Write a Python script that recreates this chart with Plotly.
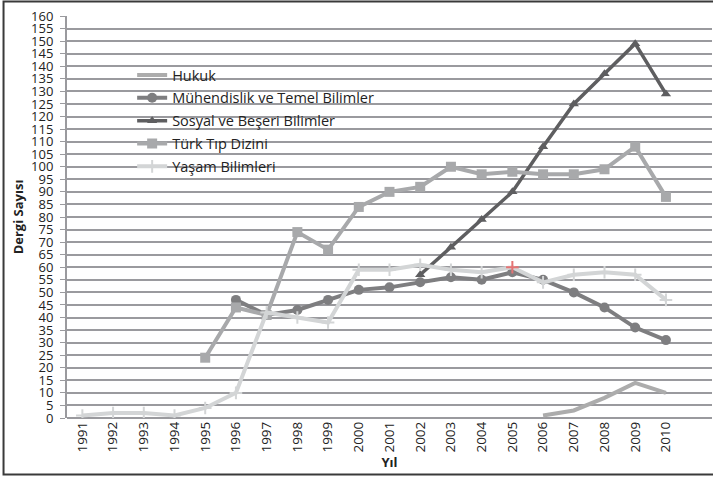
import plotly.graph_objects as go

years = list(range(1991, 2011))

hukuk_years = [2006, 2007, 2008, 2009, 2010]
hukuk = [1, 3, 8, 14, 10]

muh_years = list(range(1996, 2011))
muhendislik = [47, 41, 43, 47, 51, 52, 54, 56, 55, 58, 55, 50, 44, 36, 31]

sosyal_years = list(range(2002, 2011))
sosyal = [57, 68, 79, 90, 108, 125, 137, 149, 129]

tip_years = list(range(1995, 2011))
turk_tip = [24, 44, 41, 74, 67, 84, 90, 92, 100, 97, 98, 97, 97, 99, 108, 88]

yasam_years = years
yasam = [1, 2, 2, 1, 4, 10, 42, 40, 38, 59, 59, 61, 59, 58, 60, 54, 57, 58, 57, 47]

FONT = "Open Sans"
GRID = "#9a9a9e"

fig = go.Figure()

fig.add_trace(go.Scatter(
    x=hukuk_years, y=hukuk, mode="lines", name="Hukuk",
    line=dict(color="#acacac", width=4), legendgroup="a",
))
fig.add_trace(go.Scatter(
    x=muh_years, y=muhendislik, mode="lines+markers",
    name="Mühendislik ve Temel Bilimler",
    line=dict(color="#7e7e80", width=4),
    marker=dict(symbol="circle", size=10, color="#7e7e80"), legendgroup="b",
))
fig.add_trace(go.Scatter(
    x=sosyal_years, y=sosyal, mode="lines+markers",
    name="Sosyal ve Beşeri Bilimler",
    line=dict(color="#5e5e60", width=3.5),
    marker=dict(symbol="triangle-up", size=9, color="#5e5e60"), legendgroup="c",
))
fig.add_trace(go.Scatter(
    x=tip_years, y=turk_tip, mode="lines+markers", name="Türk Tıp Dizini",
    line=dict(color="#a8a9ab", width=4),
    marker=dict(symbol="square", size=10, color="#a8a9ab"), legendgroup="d",
))
yasam_colors = ["#d3d5d6"] * len(yasam)
yasam_colors[yasam_years.index(2005)] = "#e57373"
fig.add_trace(go.Scatter(
    x=yasam_years, y=yasam, mode="lines+markers", name="Yaşam Bilimleri",
    line=dict(color="#d3d5d6", width=4),
    marker=dict(symbol="cross-thin", size=9, color=yasam_colors,
                line=dict(width=2, color=yasam_colors)),
    legendgroup="e",
))

# white box behind the legend (hides gridlines)
fig.add_shape(type="rect", xref="paper", yref="paper",
              x0=0.074, x1=0.504, y0=0.585, y1=0.885,
              fillcolor="white", line_width=0, layer="between")
# outer frame
fig.add_shape(type="rect", xref="paper", yref="paper",
              x0=-0.0984, x1=1.05, y0=-0.1405, y1=1.036,
              fillcolor="rgba(0,0,0,0)", line=dict(color="#3a3a3a", width=2))

fig.update_layout(
    width=713, height=478,
    margin=dict(l=67, r=1, t=16, b=60),
    paper_bgcolor="white", plot_bgcolor="white",
    font=dict(family=FONT, color="#222222", size=13),
    showlegend=True,
    legend=dict(
        x=0.101, y=0.893, xanchor="left", yanchor="top",
        bgcolor="rgba(0,0,0,0)", font=dict(family=FONT, size=14.5, color="#222222"),
        tracegroupgap=1, itemwidth=30,
    ),
    xaxis=dict(
        range=[1990.5, 2011.5], tickmode="array", tickvals=years,
        ticktext=[str(y) for y in years], tickangle=-90,
        showgrid=False, zeroline=False, showline=False, automargin=False,
        ticks="", tickfont=dict(family=FONT, size=13.5, color="#222222"),
        title=dict(text="<b>Yıl</b>", font=dict(family=FONT, size=13), standoff=0),
    ),
    yaxis=dict(
        range=[0, 160], tickmode="linear", tick0=0, dtick=5,
        showgrid=True, gridcolor=GRID, gridwidth=1.5,
        zeroline=True, zerolinecolor=GRID, zerolinewidth=1.5,
        showline=True, linecolor=GRID, linewidth=2, automargin=False,
        ticks="outside", ticklen=5, tickcolor=GRID, ticklabelstandoff=4,
        tickfont=dict(family=FONT, size=13, color="#222222"),
        title=dict(text="<b>Dergi Sayısı</b>", font=dict(family=FONT, size=13), standoff=5),
    ),
)

fig.write_html("out.html", config={"displayModeBar": False},
               post_script="document.body.style.margin='0';")
